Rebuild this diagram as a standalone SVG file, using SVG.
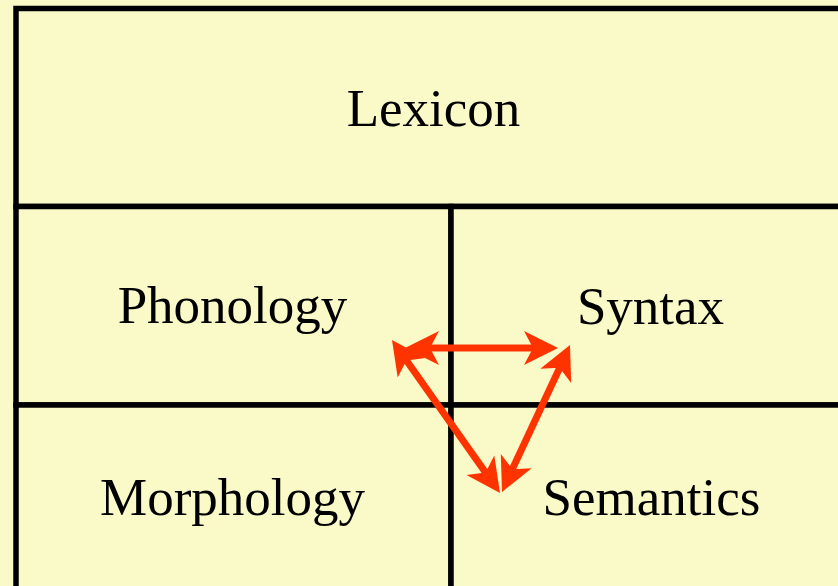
<svg xmlns="http://www.w3.org/2000/svg" width="838" height="586" viewBox="0 0 838 586">
<style>
.cell{fill:#FAFAC8;stroke:#000;stroke-width:5.5}
.lbl{font-family:"Liberation Serif","Times New Roman",serif;font-size:53px;fill:#000;text-anchor:middle}
.arr{stroke:#FF3300;stroke-width:7;fill:none}
.hd{fill:#FF3300;stroke:none}
</style>
<rect x="0" y="0" width="838" height="586" fill="#FAFAC8"/>
<g id="lexicon">
<rect class="cell" x="16" y="8.5" width="830" height="198"/>
<text class="lbl" x="433.5" y="126">Lexicon</text>
</g>
<g id="phonology">
<rect class="cell" x="16" y="206.5" width="435" height="198.5"/>
<text class="lbl" x="232.5" y="323">Phonology</text>
</g>
<g id="syntax">
<rect class="cell" x="451" y="206.5" width="395" height="198.5"/>
<text class="lbl" x="650.5" y="324">Syntax</text>
</g>
<g id="morphology">
<rect class="cell" x="16" y="405" width="435" height="190"/>
<text class="lbl" x="232.5" y="515">Morphology</text>
</g>
<g id="semantics">
<rect class="cell" x="451" y="405" width="395" height="190"/>
<text class="lbl" x="651.5" y="515">Semantics</text>
</g>
<g id="connectors">
<line class="arr" x1="428" y1="348" x2="535" y2="348"/>
<polygon class="hd" points="405,348 439,331 430,348 439,365"/>
<polygon class="hd" points="558,348 524,331 533,348 524,365"/>
<line class="arr" x1="404" y1="357" x2="488" y2="476"/>
<polygon class="hd" points="392,340 397.7,377.6 406.4,360.4 425.5,358"/>
<polygon class="hd" points="500,493 466.5,475 485.6,472.6 494.3,455.4"/>
<line class="arr" x1="561" y1="365" x2="511" y2="472"/>
<polygon class="hd" points="570,345 540.3,368.7 559.5,367.7 571.2,383"/>
<polygon class="hd" points="502,492 500.8,454 512.5,469.3 531.7,468.3"/>
</g>
</svg>
